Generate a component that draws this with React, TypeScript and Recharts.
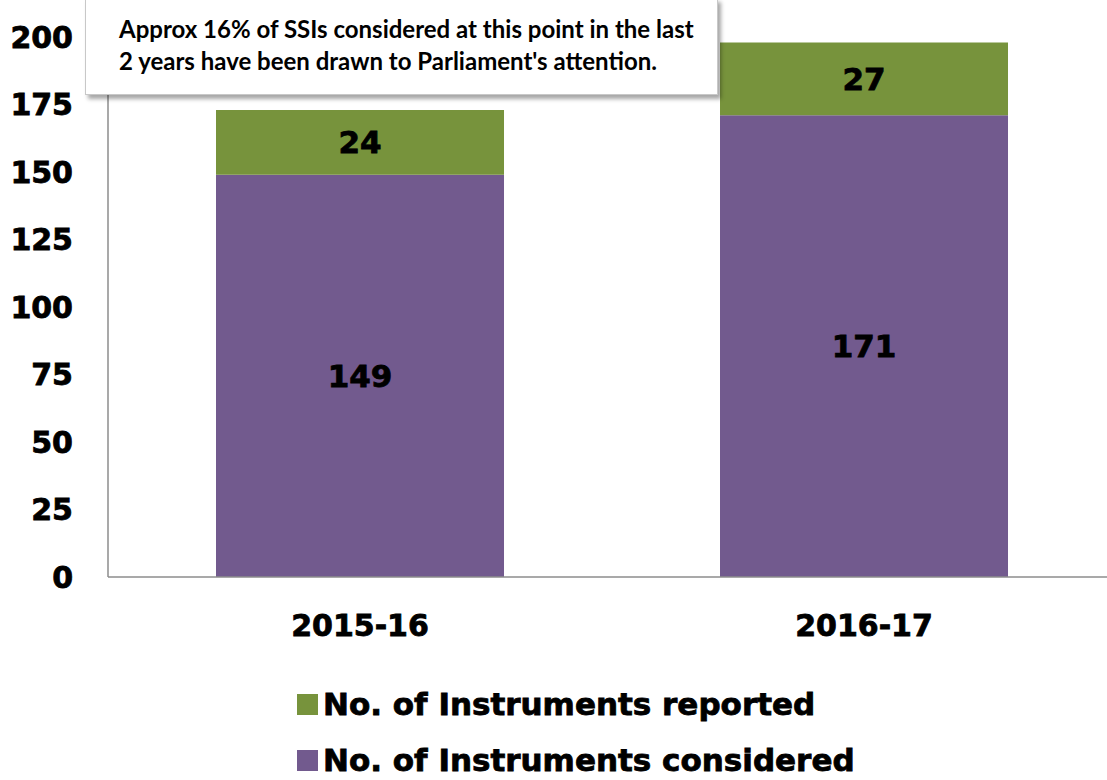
import React from 'react';
import { BarChart, Bar, XAxis, YAxis, LabelList, Legend } from 'recharts';

const categories = ['2015-16', '2016-17'];
const considered = [149, 171];
const reported = [24, 27];
const yTicks = [0, 25, 50, 75, 100, 125, 150, 175, 200];
const annotationLines = [
  'Approx 16% of SSIs considered at this point in the last',
  "2 years have been drawn to Parliament's attention.",
];

const GREEN = '#77933C';
const PURPLE = '#725A8E';
const FONT = '"DejaVu Sans", "Liberation Sans", Arial, sans-serif';

const data = categories.map((c, i) => ({
  name: c,
  considered: considered[i],
  reported: reported[i],
}));

const legendItems = [
  { label: 'No. of Instruments reported', color: GREEN },
  { label: 'No. of Instruments considered', color: PURPLE },
];

const LegendContent = () => (
  <div style={{ fontFamily: FONT, fontWeight: 700 }}>
    {legendItems.map((it, i) => (
      <div
        key={it.label}
        style={{
          display: 'flex',
          alignItems: 'center',
          height: 30,
          lineHeight: '30px',
          marginTop: i === 0 ? 0 : 26,
          fontSize: 31,
          color: '#000',
          whiteSpace: 'nowrap',
          WebkitTextStroke: '0.8px #000',
        }}
      >
        <span style={{ display: 'inline-block', width: 21, height: 21, background: it.color, marginRight: 5, flex: '0 0 auto' }} />
        {it.label}
      </div>
    ))}
  </div>
);

const boldText = { fontWeight: 700, fontFamily: FONT, stroke: '#000', strokeWidth: 0.8 };

export default function App() {
  return (
    <div style={{ position: 'absolute', left: 0, top: 0, width: 1107, height: 780, overflow: 'hidden', background: '#fff' }}>
      <BarChart
        width={1116}
        height={780}
        data={data}
        margin={{ top: 37, right: 0, bottom: 103, left: 0 }}
        barCategoryGap="21.43%"
      >
        <YAxis
          domain={[0, 200]}
          ticks={yTicks}
          width={108}
          tickLine={false}
          tickSize={0}
          tickMargin={35}
          axisLine={{ stroke: '#8c8c8c', strokeWidth: 1.5 }}
          tick={{ fill: '#000', fontSize: 30, ...boldText }}
          interval={0}
        />
        <XAxis
          dataKey="name"
          height={100}
          tickLine={false}
          tickSize={0}
          tickMargin={38}
          axisLine={{ stroke: '#8c8c8c', strokeWidth: 1.5 }}
          tick={{ fill: '#000', fontSize: 30, ...boldText }}
        />
        <Legend
          layout="vertical"
          align="center"
          verticalAlign="middle"
          content={<LegendContent />}
          wrapperStyle={{ top: 689, left: 297, width: 800, height: 88 }}
        />
        <Bar dataKey="considered" stackId="a" fill={PURPLE} isAnimationActive={false}>
          <LabelList
            dataKey="considered"
            position="center"
            fill="#000"
            style={{ fontSize: 31, ...boldText }}
          />
        </Bar>
        <Bar dataKey="reported" stackId="a" fill={GREEN} isAnimationActive={false}>
          <LabelList
            dataKey="reported"
            position="center"
            fill="#000"
            style={{ fontSize: 31, ...boldText }}
          />
        </Bar>
      </BarChart>
      <div
        style={{
          position: 'absolute',
          left: 85,
          top: -2,
          width: 633,
          height: 97,
          boxSizing: 'border-box',
          background: '#fff',
          border: '1px solid #c8c8c8',
          boxShadow: '3px 4px 4px rgba(0,0,0,0.35)',
          fontFamily: 'Lato, "Open Sans", sans-serif',
          fontWeight: 700,
          fontSize: 24,
          lineHeight: '32px',
          color: '#000',
          padding: '14px 0 0 33px',
          whiteSpace: 'nowrap',
        }}
      >
        {annotationLines.map((l) => (
          <div key={l}>{l}</div>
        ))}
      </div>
    </div>
  );
}
